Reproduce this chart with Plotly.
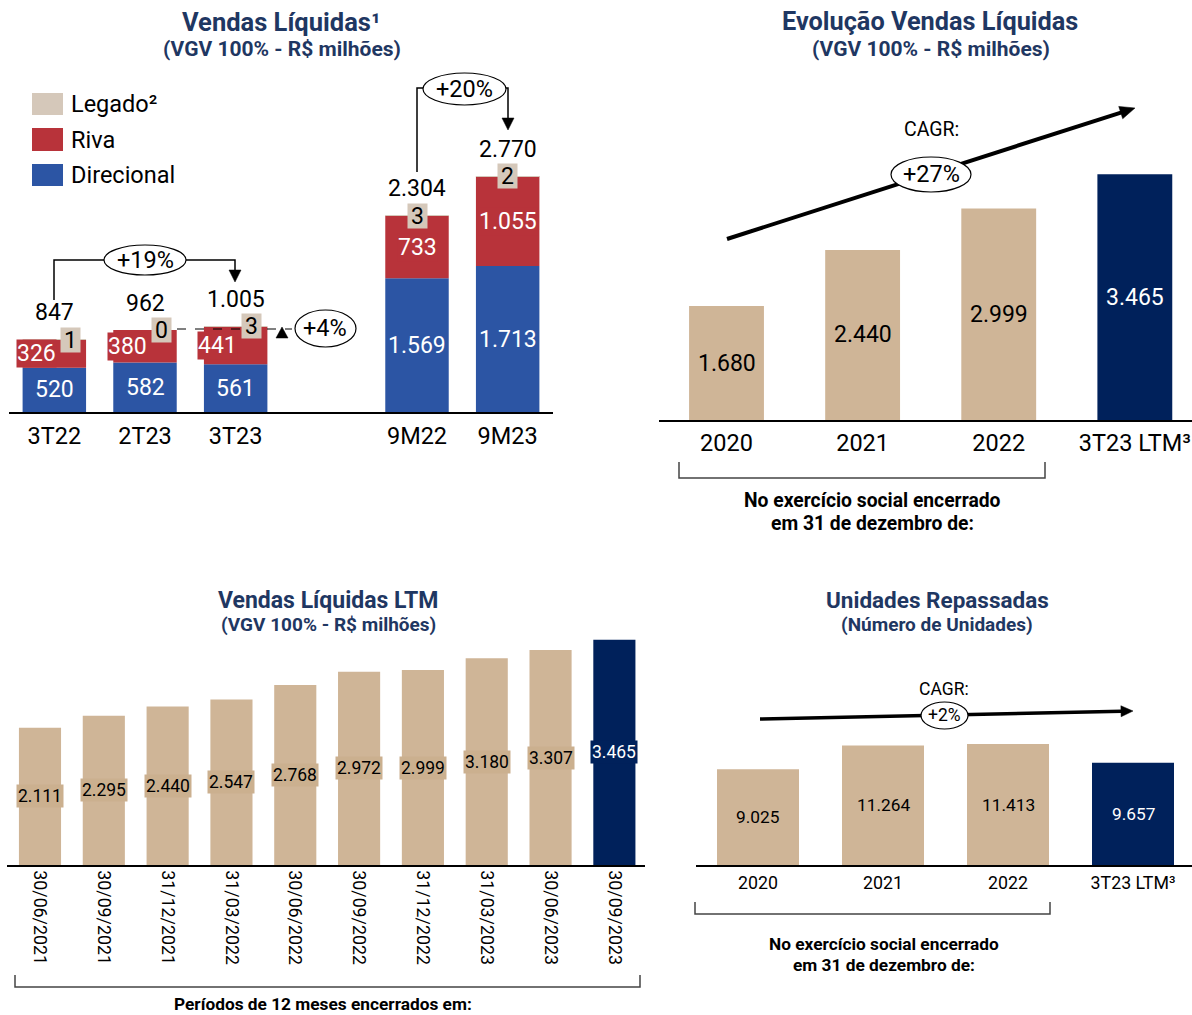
import plotly.graph_objects as go
import math

# ---------------- DATA ----------------
p1_cats = ["3T22", "2T23", "3T23", "9M22", "9M23"]
p1_pos = [0, 1, 2, 4, 5]
p1_direcional = [520, 582, 561, 1569, 1713]
p1_riva = [326, 380, 441, 733, 1055]
p1_legado = [1, 0, 3, 3, 2]
p1_total = [847, 962, 1005, 2304, 2770]
p1_direcional_lbl = ["520", "582", "561", "1.569", "1.713"]
p1_riva_lbl = ["326", "380", "441", "733", "1.055"]
p1_legado_lbl = ["1", "0", "3", "3", "2"]
p1_total_lbl = ["847", "962", "1.005", "2.304", "2.770"]

p2_cats = ["2020", "2021", "2022", "3T23 LTM³"]
p2_vals = [1680, 2440, 2999, 3465]
p2_lbls = ["1.680", "2.440", "2.999", "3.465"]

p3_cats = ["30/06/2021", "30/09/2021", "31/12/2021", "31/03/2022", "30/06/2022",
           "30/09/2022", "31/12/2022", "31/03/2023", "30/06/2023", "30/09/2023"]
p3_vals = [2111, 2295, 2440, 2547, 2768, 2972, 2999, 3180, 3307, 3465]
p3_lbls = ["2.111", "2.295", "2.440", "2.547", "2.768", "2.972", "2.999", "3.180", "3.307", "3.465"]

p4_cats = ["2020", "2021", "2022", "3T23 LTM³"]
p4_vals = [9025, 11264, 11413, 9657]
p4_lbls = ["9.025", "11.264", "11.413", "9.657"]

# ---------------- STYLE ----------------
BLUE = "#2c55a4"
RED = "#b8333a"
LEGADO = "#d5c8ba"
TAN = "#cfb597"
TANLBL = "#cbb08f"
NAVY = "#00215b"
TITLE = "#1f3762"
FONT = "Roboto"
W, H = 1192, 1015


def X(px):
    return px / W


def Y(py):
    return 1 - py / H


fig = go.Figure()

# Panel 1 stacked bars
fig.add_trace(go.Bar(x=p1_pos, y=p1_direcional, marker_color=BLUE, width=0.70,
                     name="Direcional", xaxis="x", yaxis="y", marker_line_width=0))
fig.add_trace(go.Bar(x=p1_pos, y=p1_riva, base=p1_direcional, marker_color=RED, width=0.70,
                     name="Riva", xaxis="x", yaxis="y", marker_line_width=0))
fig.add_trace(go.Bar(x=p1_pos, y=p1_legado,
                     base=[d + r for d, r in zip(p1_direcional, p1_riva)],
                     marker_color=LEGADO, width=0.70, name="Legado²",
                     xaxis="x", yaxis="y", marker_line_width=0))

# Panel 2
p2_pos = list(range(len(p2_cats)))
fig.add_trace(go.Bar(x=p2_pos, y=p2_vals, width=0.55,
                     marker_color=[TAN, TAN, TAN, NAVY], xaxis="x2", yaxis="y2",
                     marker_line_width=0))
# Panel 3
p3_pos = list(range(len(p3_cats)))
fig.add_trace(go.Bar(x=p3_pos, y=p3_vals, width=0.66,
                     marker_color=[TAN] * 9 + [NAVY], xaxis="x3", yaxis="y3",
                     marker_line_width=0))
# Panel 4
p4_pos = list(range(len(p4_cats)))
fig.add_trace(go.Bar(x=p4_pos, y=p4_vals, width=0.656,
                     marker_color=[TAN, TAN, TAN, NAVY], xaxis="x4", yaxis="y4",
                     marker_line_width=0))

ann = []
shapes = []

# ---- Panel 1 labels ----
for i, p in enumerate(p1_pos):
    d, r, t = p1_direcional[i], p1_riva[i], p1_total[i]
    xs = -18 if i < 3 else 0
    ls = 16 if i < 3 else 0
    ann.append(dict(x=p, y=d / 2, xref="x", yref="y", text=p1_direcional_lbl[i], showarrow=False,
                    font=dict(family=FONT, size=23, color="white")))
    ann.append(dict(x=p, y=d + r / 2, xref="x", yref="y", text=p1_riva_lbl[i], showarrow=False,
                    xshift=xs, bgcolor=RED, borderpad=0,
                    font=dict(family=FONT, size=23, color="white")))
    ann.append(dict(x=p, y=t, xref="x", yref="y", text=p1_legado_lbl[i], showarrow=False,
                    xshift=ls, bgcolor=LEGADO, borderpad=0, width=19, height=24,
                    font=dict(family=FONT, size=23, color="black")))
    ann.append(dict(x=p, y=t, xref="x", yref="y", text=p1_total_lbl[i], showarrow=False,
                    yshift=27, font=dict(family=FONT, size=23, color="black")))

# ---- Panel 2 labels ----
P2MIN = 138
for i, p in enumerate(p2_pos):
    ann.append(dict(x=p, y=(p2_vals[i] + P2MIN) / 2, xref="x2", yref="y2", text=p2_lbls[i],
                    showarrow=False,
                    font=dict(family=FONT, size=23, color="white" if i == 3 else "black")))
# ---- Panel 3 labels ----
for i, p in enumerate(p3_pos):
    last = i == len(p3_pos) - 1
    ann.append(dict(x=p, y=p3_vals[i] / 2, xref="x3", yref="y3", text=p3_lbls[i], showarrow=False,
                    bgcolor=NAVY if last else TANLBL, borderpad=1,
                    font=dict(family=FONT, size=17.5, color="white" if last else "black")))
# ---- Panel 4 labels ----
for i, p in enumerate(p4_pos):
    ann.append(dict(x=p, y=p4_vals[i] / 2, xref="x4", yref="y4", text=p4_lbls[i], showarrow=False,
                    font=dict(family=FONT, size=17.3, color="white" if i == 3 else "black")))


def text(px, py, s, size, color="black", bold=False, xanchor="center", yanchor="middle"):
    ann.append(dict(x=X(px), y=Y(py), xref="paper", yref="paper", showarrow=False,
                    text=f"<b>{s}</b>" if bold else s, xanchor=xanchor, yanchor=yanchor,
                    borderpad=0, font=dict(family=FONT, size=size, color=color)))


def path(pts, color="black", width=1.5, fill=None, dash="solid", closed=False):
    d = "M " + " L ".join(f"{X(a)},{Y(b)}" for a, b in pts)
    if closed:
        d += " Z"
    shapes.append(dict(type="path", path=d, xref="paper", yref="paper",
                       line=dict(color=color, width=width, dash=dash),
                       fillcolor=fill if fill else "rgba(0,0,0,0)"))


def ellipse(x0, y0, x1, y1):
    shapes.append(dict(type="circle", xref="paper", yref="paper", x0=X(x0), x1=X(x1),
                       y0=Y(y1), y1=Y(y0), line=dict(color="black", width=1.2),
                       fillcolor="white"))


def arrow(x0, y0, x1, y1, width, hl, hw):
    dx, dy = x1 - x0, y1 - y0
    L = math.hypot(dx, dy)
    ux, uy = dx / L, dy / L
    bx, by = x1 - hl * ux, y1 - hl * uy
    path([(x0, y0), (bx + ux, by + uy)], width=width)
    path([(x1, y1), (bx - uy * hw, by + ux * hw), (bx + uy * hw, by - ux * hw)],
         width=0.5, fill="black", closed=True)


# Titles
text(281, 22, "Vendas Líquidas¹", 25.5, TITLE, True)
text(282, 49, "(VGV 100% - R$ milhões)", 21, TITLE, True)
text(930, 22, "Evolução Vendas Líquidas", 25.3, TITLE, True)
text(931, 49, "(VGV 100% - R$ milhões)", 21, TITLE, True)
text(328, 600, "Vendas Líquidas LTM", 23, TITLE, True)
text(328, 624, "(VGV 100% - R$ milhões)", 19, TITLE, True)
text(937, 600, "Unidades Repassadas", 22.5, TITLE, True)
text(937, 624, "(Número de Unidades)", 19, TITLE, True)

# Legend panel 1
for (y0, y1), col, name in [((93, 115), LEGADO, "Legado²"), ((128, 151), RED, "Riva"),
                            ((164, 186), BLUE, "Direcional")]:
    shapes.append(dict(type="rect", xref="paper", yref="paper", x0=X(32), x1=X(63),
                       y0=Y(y1), y1=Y(y0), line=dict(width=0), fillcolor=col))
    text(70, (y0 + y1) / 2, name, 23.5, "black", False, "left")

# +19% bracket
path([(54, 300), (54, 260), (104, 260)])
path([(186, 260), (235, 260), (235, 270)])
path([(229, 270), (241, 270), (235, 282)], fill="black", closed=True, width=0.5)
ellipse(104, 245, 186, 275)
text(145, 260, "+19%", 23.5)
# +4%
path([(177, 329), (292, 329)], width=1, dash="dash")
path([(276, 338), (288, 338), (282, 327)], fill="black", closed=True, width=0.5)
ellipse(295, 310, 356, 347)
text(325, 328, "+4%", 23.5)
# +20%
path([(417, 172), (417, 88), (423, 88)])
path([(505, 88), (508, 88), (508, 118)])
path([(502, 118), (514, 118), (508, 130)], fill="black", closed=True, width=0.5)
ellipse(423, 73, 506, 105)
text(464, 89, "+20%", 23.5)

# Panel 2 CAGR
arrow(727, 239, 1135, 108, 4, 15, 6.5)
text(931, 129, "CAGR:", 19.5)
ellipse(891, 157, 971, 192)
text(931, 174, "+27%", 23.5)
path([(679, 462), (679, 478), (1045, 478), (1045, 462)], color="#444", width=1.5)
text(872, 500, "No exercício social encerrado", 19.3, "black", True)
text(872, 523, "em 31 de dezembro de:", 19.3, "black", True)

# Panel 3 bracket
path([(15, 975), (15, 987), (640, 987), (640, 975)], color="#444", width=1.5)
text(323, 1015, "Períodos de 12 meses encerrados em:", 17.3, "black", True, yanchor="bottom")

# Panel 4 CAGR
arrow(760, 719, 1133, 711, 3.5, 12, 5.5)
text(944, 689, "CAGR:", 17.5)
ellipse(921, 702, 968, 729)
text(944, 715, "+2%", 17.5)
path([(695, 902), (695, 914), (1050, 914), (1050, 902)], color="#444", width=1.5)
text(884, 944, "No exercício social encerrado", 17.3, "black", True)
text(884, 965, "em 31 de dezembro de:", 17.3, "black", True)


def xax(dom, rng, tv, tt, size, angle=0, standoff=None):
    d = dict(domain=[X(dom[0]), X(dom[1])], range=rng, tickvals=tv, ticktext=tt,
             showline=True, linecolor="black", linewidth=1.5, showgrid=False,
             zeroline=False, ticks="", tickangle=angle, fixedrange=True,
             tickfont=dict(family=FONT, size=size, color="black"))
    if standoff is not None:
        d["ticklabelstandoff"] = standoff
    return d


def yax(base, top, rng, anchor):
    return dict(domain=[Y(base), Y(top)], range=rng, visible=False, showgrid=False,
                zeroline=False, anchor=anchor, fixedrange=True)


fig.update_layout(
    width=W, height=H, margin=dict(l=0, r=0, t=0, b=0),
    paper_bgcolor="white", plot_bgcolor="white", showlegend=False, barmode="overlay",
    font=dict(family=FONT),
    xaxis=dict(xax((9, 553), [-0.5, 5.5], p1_pos, p1_cats, 23.5, standoff=2), anchor="y"),
    yaxis=yax(412, 60, [0, 352 / 0.0852], "x"),
    xaxis2=dict(xax((659, 1192), [-0.496, 3.42], p2_pos, p2_cats, 23.5, standoff=1), anchor="y2"),
    yaxis2=yax(420, 60, [P2MIN, P2MIN + 360 / 0.0739], "x2"),
    xaxis3=dict(xax((7, 645), [-0.517, 9.48], p3_pos, p3_cats, 17.8, 90), anchor="y3"),
    yaxis3=yax(865, 600, [0, 265 / 0.065], "x3"),
    xaxis4=dict(xax((696, 1192), [-0.496, 3.472], p4_pos, p4_cats, 17.8, standoff=1), anchor="y4"),
    yaxis4=yax(865, 640, [0, 225 / 0.0106], "x4"),
    annotations=ann, shapes=shapes,
)

fig.write_html("out.html")
